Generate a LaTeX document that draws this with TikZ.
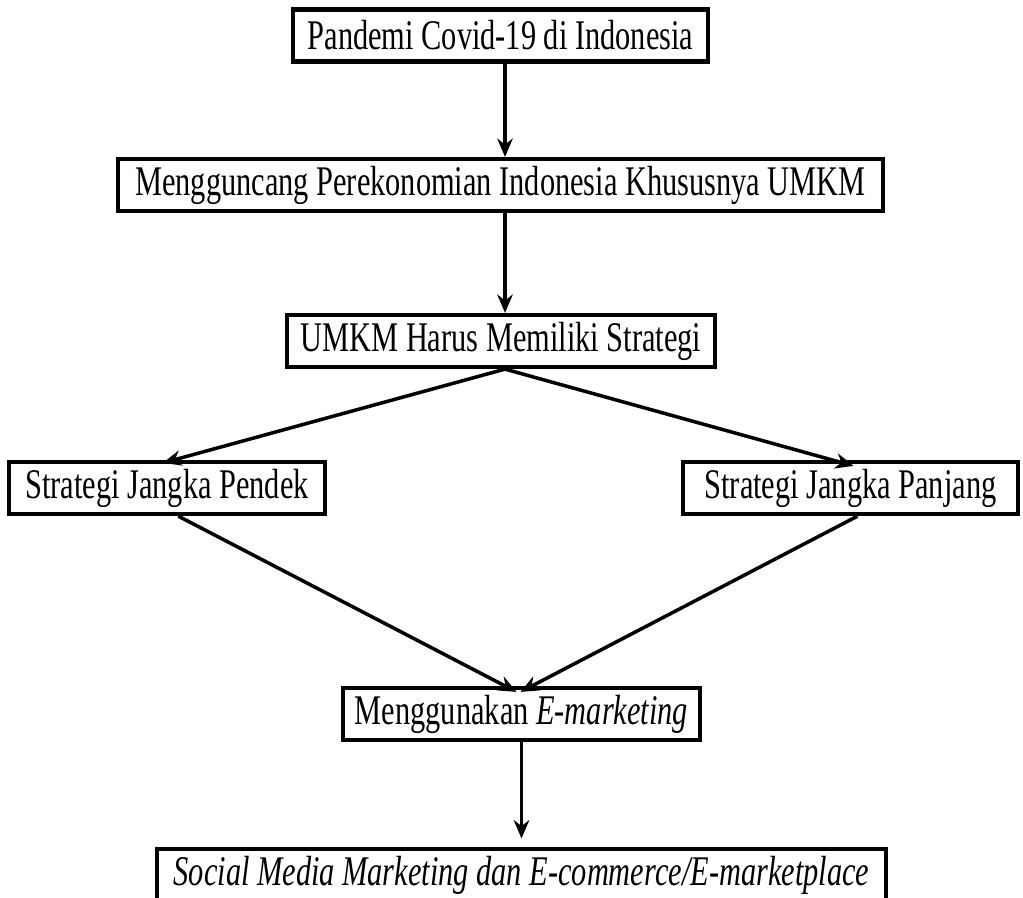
\documentclass[tikz,border=0pt]{standalone}
\usepackage{fontspec}
\setmainfont{Liberation Serif}[FakeStretch=0.72]
\usetikzlibrary{arrows.meta}

\begin{document}
\begin{tikzpicture}[x=0.025cm,y=-0.025cm,
  box/.style={draw,line width=3pt,minimum height=1.3cm,inner sep=0pt,font=\fontsize{30}{36}\selectfont},
  arr/.style={line width=2.5pt,-{Stealth[length=13pt,width=11pt]}}]
\useasboundingbox(0,0)rectangle(1023,898);
\node[box,minimum width=10.375cm](pandemi)at(500.5,35.5){Pandemi Covid-19 di Indonesia};
\node[box,minimum width=19.125cm](guncang)at(500.5,185){Mengguncang Perekonomian Indonesia Khususnya UMKM};
\node[box,minimum width=10.7cm](strategi)at(501,341){UMKM Harus Memiliki Strategi};
\node[box,minimum width=7.9cm](pendek)at(167,488){Strategi Jangka Pendek};
\node[box,minimum width=8.375cm](panjang)at(850.5,488){Strategi Jangka Panjang};
\node[box,minimum width=8.925cm](emarket)at(521.5,714){Menggunakan \textit{E-marketing}};
\node[box,minimum width=18.225cm](sosmed)at(521.5,875){\textit{Social Media Marketing dan E-commerce/E-marketplace}};
\draw[arr](pandemi.south-|505,0)--(guncang.north-|505,0);
\draw[arr](guncang.south-|505,0)--(strategi.north-|505,0);
\draw[arr](strategi.south-|505,0)--([shift={(-4,3)}]pendek.north);
\draw[arr](strategi.south-|505,0)--([shift={(3,6)}]panjang.north);
\draw[arr]([xshift=8]pendek.south)--([shift={(-5,6)}]emarket.north);
\draw[arr]([xshift=5]panjang.south)--([shift={(-1,6)}]emarket.north);
\draw[arr](emarket.south)--([yshift=6]sosmed.north);
\end{tikzpicture}
\end{document}
